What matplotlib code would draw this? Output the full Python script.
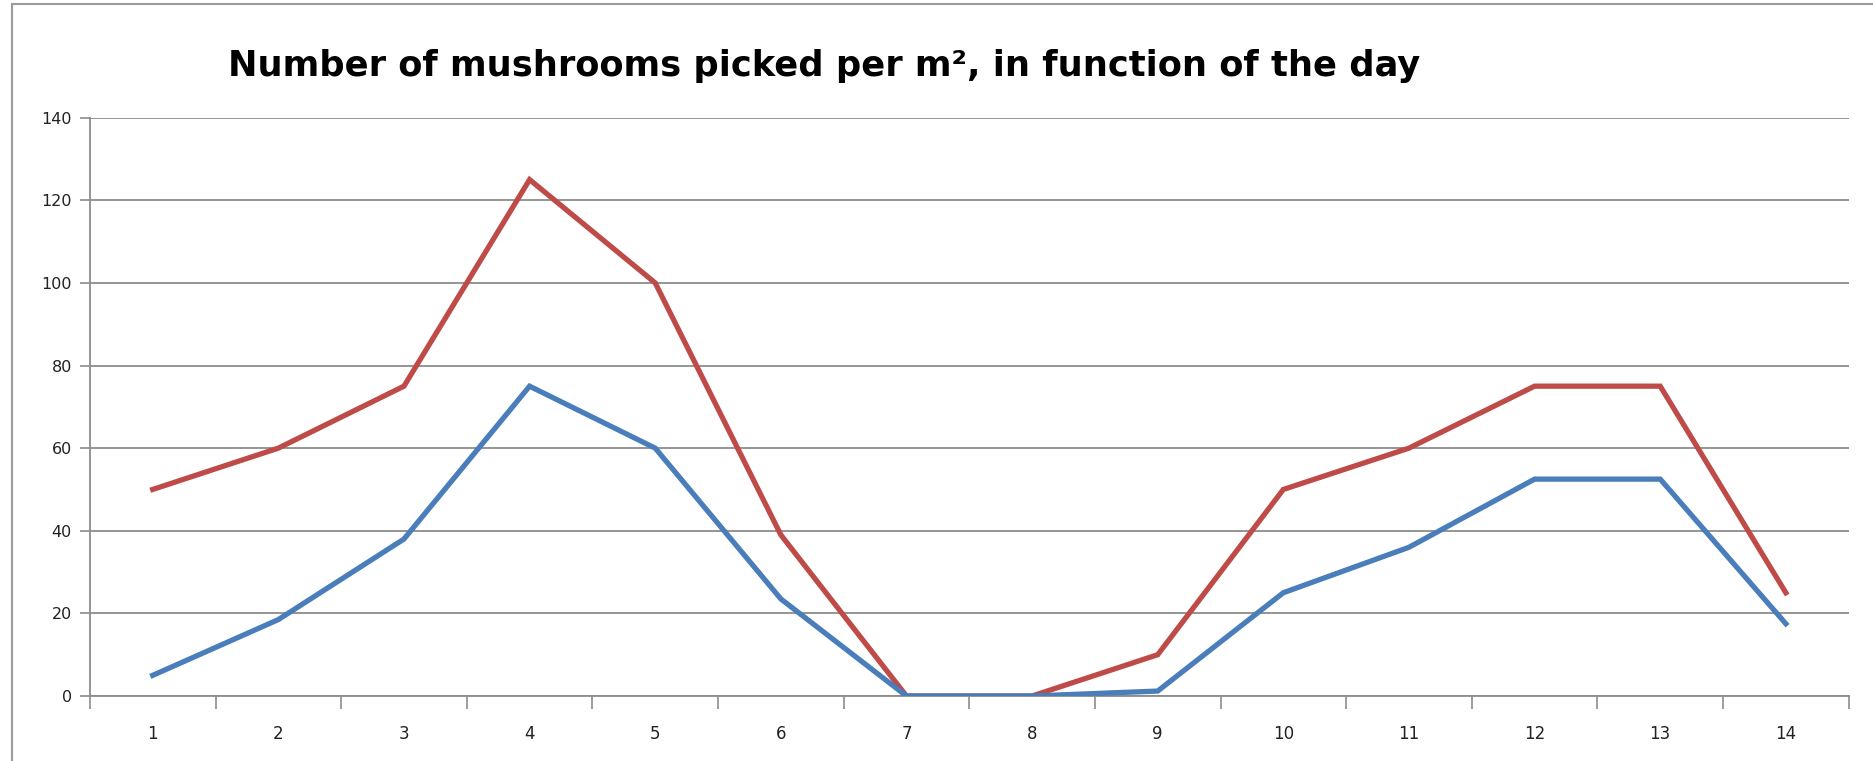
import matplotlib.pyplot as plt
import numpy as np
from matplotlib.patches import Rectangle

# -----------------------data-----------------------
days = np.arange(1, 15)
day_labels = [str(d) for d in days]
red_values = [50, 60, 75, 125, 100, 39, 0, 0, 10, 50, 60, 75, 75, 25]
blue_values = [5, 18.5, 38, 75, 60, 23.5, 0, 0, 1.2, 25, 36, 52.5, 52.5, 17.5]
y_ticks = [0, 20, 40, 60, 80, 100, 120, 140]

# -----------------------style-----------------------
red = '#BE4B48'
blue = '#4A7EBB'
grid_gray = '#8C8C8C'

fig = plt.figure(figsize=(18.73, 7.61), dpi=100)
ax = fig.add_axes([0.048, 0.0854, 0.939, 0.760])

# outer chart border (left / top edges visible)
fig.patches.append(Rectangle((12 / 1873, -0.05), 1.2, 1.05 - 4 / 761, transform=fig.transFigure,
                             fill=False, edgecolor='#9A9A9A', linewidth=1.5))

# red first, blue on top (blue stays visible where both sit on zero)
ax.plot(days, red_values, color=red, linewidth=3.8, solid_joinstyle='miter', zorder=3)
ax.plot(days, blue_values, color=blue, linewidth=3.8, solid_joinstyle='miter', zorder=3)

ax.set_xlim(0.5, 14.5)
ax.set_ylim(0, 140)

# y axis
ax.set_yticks(y_ticks)
ax.set_yticklabels([str(v) for v in y_ticks], fontsize=11.5, color='#222222')
ax.yaxis.grid(True, color=grid_gray, linewidth=1.3)
ax.tick_params(axis='y', direction='out', length=7, color=grid_gray, width=1.2, pad=6)

# x axis: labels at centers, tick marks between categories
ax.set_xticks(days)
ax.set_xticklabels(day_labels, fontsize=12, color='#222222')
ax.set_xticks(np.arange(0.5, 15, 1), minor=True)
ax.tick_params(axis='x', which='major', length=0, pad=21)
ax.tick_params(axis='x', which='minor', direction='out', length=9, color=grid_gray, width=1.2)

for side in ['top', 'right']:
    ax.spines[side].set_visible(False)
for side in ['left', 'bottom']:
    ax.spines[side].set_color(grid_gray)
    ax.spines[side].set_linewidth(1.3)
ax.set_axisbelow(True)

fig.text(0.44, 0.913, 'Number of mushrooms picked per m\u00b2, in function of the day',
         ha='center', va='center', fontsize=25.4, fontweight='bold')

fig.savefig('out.png', dpi=100)
